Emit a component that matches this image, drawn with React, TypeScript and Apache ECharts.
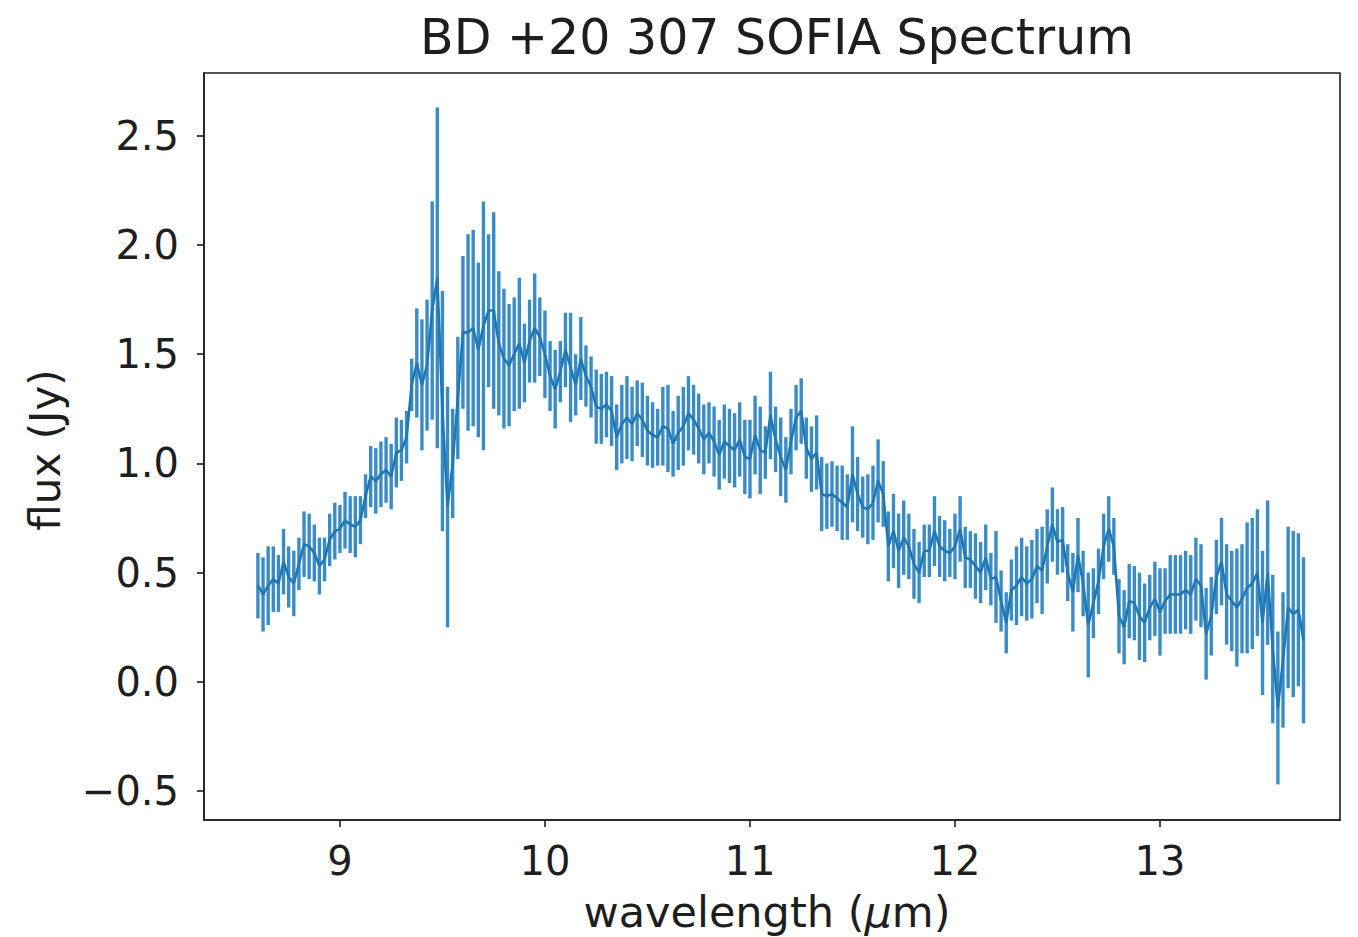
import React, { useEffect, useRef } from "react";
import * as echarts from "echarts";

const titleText = "BD +20 307 SOFIA Spectrum";
const xTicks = [9, 10, 11, 12, 13];
const yTicks = [-0.5, 0, 0.5, 1, 1.5, 2, 2.5];

const wavelength = [
  8.600, 8.625, 8.650, 8.675, 8.700, 8.725, 8.750, 8.775, 8.800, 8.825, 8.850, 8.875, 8.900, 8.925, 8.950, 8.975,
  9.000, 9.025, 9.050, 9.075, 9.100, 9.125, 9.150, 9.175, 9.200, 9.225, 9.250, 9.275, 9.300, 9.325, 9.350, 9.375,
  9.400, 9.425, 9.450, 9.475, 9.500, 9.525, 9.550, 9.575, 9.600, 9.625, 9.650, 9.675, 9.700, 9.725, 9.750, 9.775,
  9.800, 9.825, 9.850, 9.875, 9.900, 9.925, 9.950, 9.975,
  10.000, 10.025, 10.050, 10.075, 10.100, 10.125, 10.150, 10.175, 10.200, 10.225, 10.250, 10.275, 10.300, 10.325,
  10.350, 10.375, 10.400, 10.425, 10.450, 10.475, 10.500, 10.525, 10.550, 10.575, 10.600, 10.625, 10.650, 10.675,
  10.700, 10.725, 10.750, 10.775, 10.800, 10.825, 10.850, 10.875, 10.900, 10.925, 10.950, 10.975,
  11.000, 11.025, 11.050, 11.075, 11.100, 11.125, 11.150, 11.175, 11.200, 11.225, 11.250, 11.275, 11.300, 11.325,
  11.350, 11.375, 11.400, 11.425, 11.450, 11.475, 11.500, 11.525, 11.550, 11.575, 11.600, 11.625, 11.650, 11.675,
  11.700, 11.725, 11.750, 11.775, 11.800, 11.825, 11.850, 11.875, 11.900, 11.925, 11.950, 11.975,
  12.000, 12.025, 12.050, 12.075, 12.100, 12.125, 12.150, 12.175, 12.200, 12.225, 12.250, 12.275, 12.300, 12.325,
  12.350, 12.375, 12.400, 12.425, 12.450, 12.475, 12.500, 12.525, 12.550, 12.575, 12.600, 12.625, 12.650, 12.675,
  12.700, 12.725, 12.750, 12.775, 12.800, 12.825, 12.850, 12.875, 12.900, 12.925, 12.950, 12.975,
  13.000, 13.025, 13.050, 13.075, 13.100, 13.125, 13.150, 13.175, 13.200, 13.225, 13.250, 13.275, 13.300, 13.325,
  13.350, 13.375, 13.400, 13.425, 13.450, 13.475, 13.500, 13.525, 13.550, 13.575, 13.600, 13.625, 13.650, 13.675,
  13.700,
];

const flux = [
  0.44, 0.40, 0.44, 0.47, 0.45, 0.55, 0.48, 0.45, 0.54, 0.63, 0.62, 0.59, 0.53, 0.56, 0.65, 0.69, 0.70, 0.74, 0.72, 0.71,
  0.74, 0.85, 0.94, 0.92, 0.95, 0.97, 0.94, 1.05, 1.06, 1.12,
  1.36, 1.46, 1.36, 1.45, 1.70, 1.85, 1.24, 0.80, 1.00, 1.30, 1.60, 1.60, 1.62, 1.52, 1.63, 1.70, 1.70, 1.55, 1.48, 1.45,
  1.50, 1.55, 1.46, 1.56, 1.62, 1.58, 1.50, 1.40, 1.34, 1.42, 1.52, 1.44, 1.36, 1.48, 1.40, 1.35,
  1.26, 1.25, 1.27, 1.24, 1.12, 1.18, 1.21, 1.18, 1.23, 1.20, 1.15, 1.13, 1.12, 1.17, 1.16, 1.09, 1.14, 1.17, 1.23, 1.20,
  1.16, 1.11, 1.14, 1.10, 1.04, 1.10, 1.08, 1.06, 1.11, 1.03, 1.02, 1.13, 1.06, 1.05,
  1.22, 1.11, 1.03, 0.97, 1.10, 1.21, 1.24, 1.07, 1.02, 1.05, 0.86, 0.85, 0.86, 0.84, 0.82, 0.80, 0.95, 0.86, 0.80, 0.79,
  0.82, 0.92, 0.86, 0.62, 0.69, 0.60, 0.66, 0.62, 0.54, 0.50, 0.60, 0.60, 0.69, 0.62, 0.60,
  0.59, 0.62, 0.70, 0.57, 0.56, 0.53, 0.50, 0.57, 0.47, 0.48, 0.37, 0.27, 0.42, 0.44, 0.48, 0.45, 0.47, 0.53, 0.51, 0.62,
  0.72, 0.64, 0.65, 0.50, 0.41, 0.58, 0.45, 0.26, 0.36, 0.46, 0.62, 0.70, 0.62, 0.30,
  0.25, 0.37, 0.36, 0.30, 0.27, 0.34, 0.38, 0.32, 0.37, 0.40, 0.40, 0.40, 0.42, 0.40, 0.47, 0.44, 0.22, 0.30, 0.48, 0.55,
  0.40, 0.37, 0.34, 0.38, 0.43, 0.45, 0.50, 0.27, 0.50, 0.15, -0.12, 0.10, 0.34, 0.31, 0.33, 0.19,
];

const fluxErr = [
  0.15, 0.17, 0.18, 0.15, 0.13, 0.15, 0.14, 0.15, 0.12, 0.15, 0.15, 0.13, 0.13, 0.10, 0.12, 0.13, 0.11, 0.13, 0.13, 0.14,
  0.11, 0.10, 0.14, 0.15, 0.15, 0.15, 0.15, 0.16, 0.14, 0.12,
  0.12, 0.25, 0.30, 0.30, 0.50, 0.78, 0.55, 0.55, 0.25, 0.28, 0.35, 0.45, 0.45, 0.40, 0.57, 0.35, 0.45, 0.33, 0.32, 0.28,
  0.26, 0.30, 0.18, 0.19, 0.25, 0.18, 0.20, 0.16, 0.18, 0.14, 0.17, 0.25, 0.14, 0.19, 0.14, 0.14,
  0.17, 0.16, 0.15, 0.16, 0.15, 0.18, 0.19, 0.17, 0.15, 0.17, 0.16, 0.15, 0.13, 0.18, 0.20, 0.15, 0.17, 0.18, 0.17, 0.16,
  0.16, 0.16, 0.14, 0.16, 0.16, 0.17, 0.17, 0.17, 0.17, 0.17, 0.18, 0.18, 0.20, 0.12,
  0.20, 0.15, 0.18, 0.15, 0.15, 0.15, 0.15, 0.14, 0.15, 0.17, 0.17, 0.15, 0.15, 0.15, 0.17, 0.15, 0.22, 0.17, 0.14, 0.16,
  0.17, 0.19, 0.15, 0.16, 0.17, 0.17, 0.17, 0.15, 0.16, 0.14, 0.12, 0.12, 0.16, 0.14, 0.14,
  0.11, 0.15, 0.15, 0.14, 0.13, 0.15, 0.14, 0.15, 0.12, 0.21, 0.14, 0.14, 0.14, 0.18, 0.18, 0.17, 0.18, 0.17, 0.20, 0.17,
  0.17, 0.15, 0.15, 0.13, 0.18, 0.17, 0.15, 0.24, 0.16, 0.15, 0.15, 0.15, 0.13, 0.17,
  0.17, 0.17, 0.17, 0.20, 0.18, 0.15, 0.17, 0.20, 0.15, 0.18, 0.18, 0.18, 0.18, 0.18, 0.19, 0.19, 0.21, 0.18, 0.17, 0.20,
  0.23, 0.23, 0.27, 0.25, 0.30, 0.30, 0.29, 0.33, 0.33, 0.34, 0.35, 0.31, 0.37, 0.38, 0.35, 0.38,
];

const FONT = "'DejaVu Sans', sans-serif";
const INK = "#1e1e1e";
const LINE_COLOR = "#1f77b4";
const BAR_COLOR = "#3a8cc6";

export default function App() {
  const ref = useRef<HTMLDivElement>(null);

  useEffect(() => {
    if (!ref.current) return;
    const chart = echarts.init(ref.current, undefined, { renderer: "svg" });

    const errData = wavelength.map((w, i) => [w, flux[i], fluxErr[i]]);
    const lineData = wavelength.map((w, i) => [w, flux[i]]);

    const fmt = (v: number) => v.toFixed(1).replace("-", "\u2212");

    chart.setOption({
      animation: false,
      backgroundColor: "#ffffff",
      grid: {
        left: 204,
        top: 73,
        width: 1136,
        height: 747,
        show: true,
        borderColor: INK,
        borderWidth: 1.6,
        backgroundColor: "transparent",
      },
      xAxis: {
        type: "value",
        min: 8.337,
        max: 13.878,
        splitLine: { show: false },
        axisLine: { show: true, onZero: false, lineStyle: { color: INK, width: 1.6 } },
        axisTick: { show: true, length: 7, lineStyle: { color: INK, width: 1.6 }, customValues: xTicks },
        axisLabel: {
          customValues: xTicks,
          color: INK,
          fontFamily: FONT,
          fontSize: 40,
          margin: 21,
          formatter: (v: number) => String(v),
        },
      },
      yAxis: {
        type: "value",
        min: -0.633,
        max: 2.788,
        splitLine: { show: false },
        axisLine: { show: true, onZero: false, lineStyle: { color: INK, width: 1.6 } },
        axisTick: { show: true, length: 7, lineStyle: { color: INK, width: 1.6 }, customValues: yTicks },
        axisLabel: {
          customValues: yTicks,
          color: INK,
          fontFamily: FONT,
          fontSize: 40,
          margin: 25,
          formatter: fmt,
        },
      },
      graphic: [
        {
          type: "text",
          x: 777,
          y: 37,
          style: {
            text: titleText,
            font: `49px ${FONT}`,
            fill: INK,
            textAlign: "center",
            textVerticalAlign: "middle",
          },
        },
        {
          type: "text",
          x: 767,
          y: 912,
          style: {
            text: "{a|wavelength (}{b|\u03bc}{a|m)}",
            rich: {
              a: { fontFamily: FONT, fontSize: 43, fill: INK },
              b: { fontFamily: FONT, fontSize: 43, fontStyle: "italic", fill: INK },
            },
            textAlign: "center",
            textVerticalAlign: "middle",
          },
        },
        {
          type: "text",
          x: 45,
          y: 450,
          rotation: Math.PI / 2,
          style: {
            text: "flux (Jy)",
            font: `42px ${FONT}`,
            fill: INK,
            textAlign: "center",
            textVerticalAlign: "middle",
          },
        },
      ],
      series: [
        {
          type: "custom",
          name: "error",
          data: errData,
          encode: { x: 0, y: 1 },
          renderItem: (params: any, api: any) => {
            const x = api.value(0);
            const y = api.value(1);
            const e = api.value(2);
            const p1 = api.coord([x, y - e]);
            const p2 = api.coord([x, y + e]);
            return {
              type: "line",
              shape: { x1: p1[0], y1: p1[1], x2: p2[0], y2: p2[1] },
              style: { stroke: BAR_COLOR, lineWidth: 3.4 },
            };
          },
          z: 2,
        },
        {
          type: "line",
          name: "flux",
          data: lineData,
          showSymbol: false,
          symbol: "none",
          lineStyle: { color: LINE_COLOR, width: 2.6 },
          z: 3,
        },
      ],
    });

    return () => chart.dispose();
  }, []);

  return (
    <div
      ref={ref}
      style={{ position: "fixed", left: 0, top: 0, width: 1358, height: 937, background: "#fff" }}
    />
  );
}
